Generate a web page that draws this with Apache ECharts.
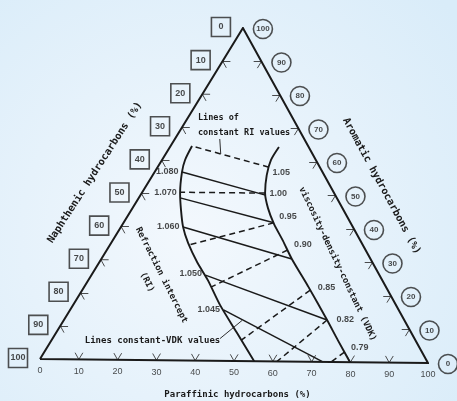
<!DOCTYPE html>
<html>
<head>
<meta charset="utf-8">
<title>Hydrocarbon-type ternary diagram</title>
<script src="https://cdn.jsdelivr.net/npm/echarts/dist/echarts.min.js"></script>
<style>
  html, body { margin: 0; padding: 0; background: #e4f1fa; }
  #chart { width: 457px; height: 401px; }
</style>
</head>
<body>
<div id="chart"></div>
<script>
// Compositions are written as [paraffinic %, aromatic %]; naphthenic = 100 - P - A.
const scaleTicks = [0, 10, 20, 30, 40, 50, 60, 70, 80, 90, 100];

// Boundary of the refraction-intercept (RI) field
const riBoundary = [[5.5, 64.4], [5.9, 60.2], [7.0, 56.6], [9.8, 50.3], [12.7, 45.2], [15.9, 40.1],
  [19.7, 35.3], [25.0, 29.6], [30.6, 24.2], [37.6, 16.8], [46.4, 8.4], [55.2, 0]];
// Boundary of the viscosity-density-constant (VDK) field
const vdkBoundary = [[27.9, 64.4], [27.9, 60.5], [29.2, 55.9], [31.6, 50.5], [34.7, 46.0], [38.7, 41.3],
  [43.7, 36.2], [48.8, 30.8], [57.2, 22.7], [67.4, 12.6], [73.3, 6.6], [79.9, 0]];

// Lines of constant RI, each starting on the RI boundary
const riValues = ['1.080', '1.070', '1.060', '1.050', '1.045'];
const riLines = [
  [[7.0, 56.6], [32.0, 49.9]],
  [[10.6, 48.8], [38.5, 41.6]],
  [[15.9, 40.1], [48.8, 30.8]],
  [[29.2, 25.7], [67.4, 12.6]],
  [[39.3, 15.3], [72.9, 0]]
];
// Lines of constant VDK, each starting on the VDK boundary
const vdkValues = ['1.05', '1.00', '0.95', '0.90', '0.85', '0.82', '0.79'];
const vdkLines = [
  [[28.5, 58.3], [5.5, 64.4]],
  [[31.6, 50.5], [9.7, 50.5]],
  [[38.5, 41.6], [20.3, 34.7]],
  [[46.3, 33.5], [32.5, 22.1]],
  [[58.4, 21.5], [48.6, 6.3]],
  [[67.4, 12.6], [61.1, 0]],
  [[76.9, 3.0], [75.0, 0]]
];
// Pointers from the two notes to their line families
const riNotePointer = [[14.1, 62.1], [11.5, 66.6]];
const vdkNotePointer = [[42.9, 6.7], [45.7, 12.2]];

// ---- ternary -> plane ----
const SKEW = 0.523;   // apex sits a little right of the base midpoint
const TILT = 0.0121;  // base dips slightly toward the paraffinic corner
const toXY = ([p, a]) => [p + SKEW * a, a - TILT * p];

const ink = '#1a1a1a';
const monoFont = '"DejaVu Sans Mono", "Liberation Mono", monospace';
const sansFont = '"Liberation Sans", Arial, sans-serif';

// short tick marks along the three scales, pointing along the grid directions
const TICK = 2.0;
const tickSegs = [];
scaleTicks.slice(1, -1).forEach(t => {
  tickSegs.push([[t, 0], [t, TICK]], [[t, 0], [t - TICK, TICK]]);                       // paraffinic
  tickSegs.push([[0, 100 - t], [TICK, 100 - t]], [[0, 100 - t], [TICK, 100 - t - TICK]]); // naphthenic
  tickSegs.push([[100 - t, t], [100 - t - TICK, t]], [[100 - t, t], [100 - t, t - TICK]]); // aromatic
});
const segData = segs => segs.map(s => ({ coords: s.map(toXY) }));

const riNudge = [[0, 0], [0, -5], [0, 0], [0, -2], [0, 0]];
const vdkNudge = [[-2, 5], [-1, 0], [0, -6], [1, -5], [2, -3], [4, 0], [1, -5]];

const hidden = { color: 'transparent' };

const chart = echarts.init(document.getElementById('chart'), null, { renderer: 'canvas' });
chart.setOption({
  animation: false,
  backgroundColor: {
    type: 'radial', x: 0.42, y: 0.58, r: 0.85,
    colorStops: [{ offset: 0, color: '#f3f8fd' }, { offset: 1, color: '#d9ecf9' }]
  },
  grid: { left: 40, right: 29, top: 28, bottom: 8.9 },
  xAxis: { type: 'value', min: 0, max: 100, show: false },
  yAxis: { type: 'value', min: -10, max: 100, show: false },
  series: [
    { // triangle frame
      type: 'line', symbol: 'none', silent: true,
      data: [[0, 0], [100, 0], [0, 100], [0, 0]].map(toXY),
      lineStyle: { color: ink, width: 2, join: 'miter' }
    },
    { // scale ticks
      type: 'lines', coordinateSystem: 'cartesian2d', silent: true,
      data: segData(tickSegs),
      lineStyle: { color: '#2e2e2e', width: 1, opacity: 0.85 }
    },
    { // RI field boundary
      type: 'line', symbol: 'none', smooth: 0.25, silent: true,
      data: riBoundary.map(toXY),
      lineStyle: { color: ink, width: 1.9 }
    },
    { // VDK field boundary
      type: 'line', symbol: 'none', smooth: 0.25, silent: true,
      data: vdkBoundary.map(toXY),
      lineStyle: { color: ink, width: 1.9 }
    },
    { // constant RI lines
      type: 'lines', coordinateSystem: 'cartesian2d', silent: true,
      data: segData(riLines),
      lineStyle: { color: ink, width: 1.5, opacity: 1 }
    },
    { // constant VDK lines
      type: 'lines', coordinateSystem: 'cartesian2d', silent: true,
      data: segData(vdkLines),
      lineStyle: { color: ink, width: 1.5, type: [6, 4], opacity: 1 }
    },
    { // note pointers
      type: 'lines', coordinateSystem: 'cartesian2d', silent: true,
      data: segData([riNotePointer, vdkNotePointer]),
      lineStyle: { color: '#2e2e2e', width: 1, opacity: 1 }
    },
    { // paraffinic scale labels
      type: 'scatter', symbolSize: 1, itemStyle: hidden, silent: true,
      data: scaleTicks.map(t => ({ value: toXY([t, 0]), label: { formatter: String(t) } })),
      label: { show: true, position: 'inside', offset: [0, 12], color: ink, fontFamily: sansFont, fontSize: 9 }
    },
    { // naphthenic scale labels (boxed)
      type: 'scatter', symbolSize: 1, itemStyle: hidden, silent: true,
      data: scaleTicks.map(n => ({ value: toXY([0, 100 - n]), label: { formatter: String(n) } })),
      label: {
        show: true, position: 'inside', offset: [-22, -1], color: ink, fontFamily: sansFont, fontSize: 9,
        fontWeight: 'bold', width: 15, height: 15, lineHeight: 15, padding: 2, align: 'center',
        verticalAlign: 'middle', borderColor: '#262626', borderWidth: 1.6
      }
    },
    { // aromatic scale labels (circled)
      type: 'scatter', symbolSize: 1, itemStyle: hidden, silent: true,
      data: scaleTicks.map(a => ({ value: toXY([100 - a, a]), label: { formatter: String(a) } })),
      label: {
        show: true, position: 'inside', offset: [20, 1], color: ink, fontFamily: sansFont, fontSize: 8,
        fontWeight: 'bold', width: 15, height: 15, lineHeight: 15, padding: 2, align: 'center',
        verticalAlign: 'middle', borderColor: '#262626', borderWidth: 1.6, borderRadius: 10
      }
    },
    { // RI values
      type: 'scatter', symbolSize: 1, itemStyle: hidden, silent: true,
      data: riLines.map((s, i) => ({ value: toXY(s[0]), label: { formatter: riValues[i], offset: riNudge[i] } })),
      label: { show: true, position: 'left', distance: 3, color: ink, fontFamily: sansFont, fontSize: 9, fontWeight: 'bold' }
    },
    { // VDK values
      type: 'scatter', symbolSize: 1, itemStyle: hidden, silent: true,
      data: vdkLines.map((s, i) => ({ value: toXY(s[0]), label: { formatter: vdkValues[i], offset: vdkNudge[i] } })),
      label: { show: true, position: 'right', distance: 5, color: ink, fontFamily: sansFont, fontSize: 9, fontWeight: 'bold' }
    }
  ],
  graphic: [
    { type: 'text', x: 95, y: 172.5, rotation: 57.1 * Math.PI / 180, silent: true,
      style: { text: 'Naphthenic hydrocarbons (%)', fill: ink, fontFamily: monoFont, fontSize: 10.2, fontWeight: 'bold', align: 'center', verticalAlign: 'middle' } },
    { type: 'text', x: 381.5, y: 186, rotation: -61.6 * Math.PI / 180, silent: true,
      style: { text: 'Aromatic hydrocarbons (%)', fill: ink, fontFamily: monoFont, fontSize: 10.2, fontWeight: 'bold', align: 'center', verticalAlign: 'middle' } },
    { type: 'text', x: 237.5, y: 395, silent: true,
      style: { text: 'Paraffinic hydrocarbons (%)', fill: ink, fontFamily: monoFont, fontSize: 9, fontWeight: 'bold', align: 'center', verticalAlign: 'middle' } },
    { type: 'text', x: 337.5, y: 264, rotation: -64.6 * Math.PI / 180, silent: true,
      style: { text: 'viscosity-density-constant (VDK)', fill: ink, fontFamily: monoFont, fontSize: 8.8, fontWeight: 'bold', align: 'center', verticalAlign: 'middle' } },
    { type: 'text', x: 154.3, y: 278.6, rotation: -63.4 * Math.PI / 180, silent: true,
      style: { text: 'Refraction intercept\n(RI)', fill: ink, fontFamily: monoFont, fontSize: 8.8, lineHeight: 16, fontWeight: 'bold', align: 'center', verticalAlign: 'middle' } },
    { type: 'text', x: 198, y: 125, silent: true,
      style: { text: 'Lines of\nconstant RI values', fill: ink, fontFamily: monoFont, fontSize: 8.5, lineHeight: 15, fontWeight: 'bold', align: 'left', verticalAlign: 'middle' } },
    { type: 'text', x: 152.5, y: 341, silent: true,
      style: { text: 'Lines constant-VDK values', fill: ink, fontFamily: monoFont, fontSize: 9, fontWeight: 'bold', align: 'center', verticalAlign: 'middle' } }
  ]
});
</script>
</body>
</html>
